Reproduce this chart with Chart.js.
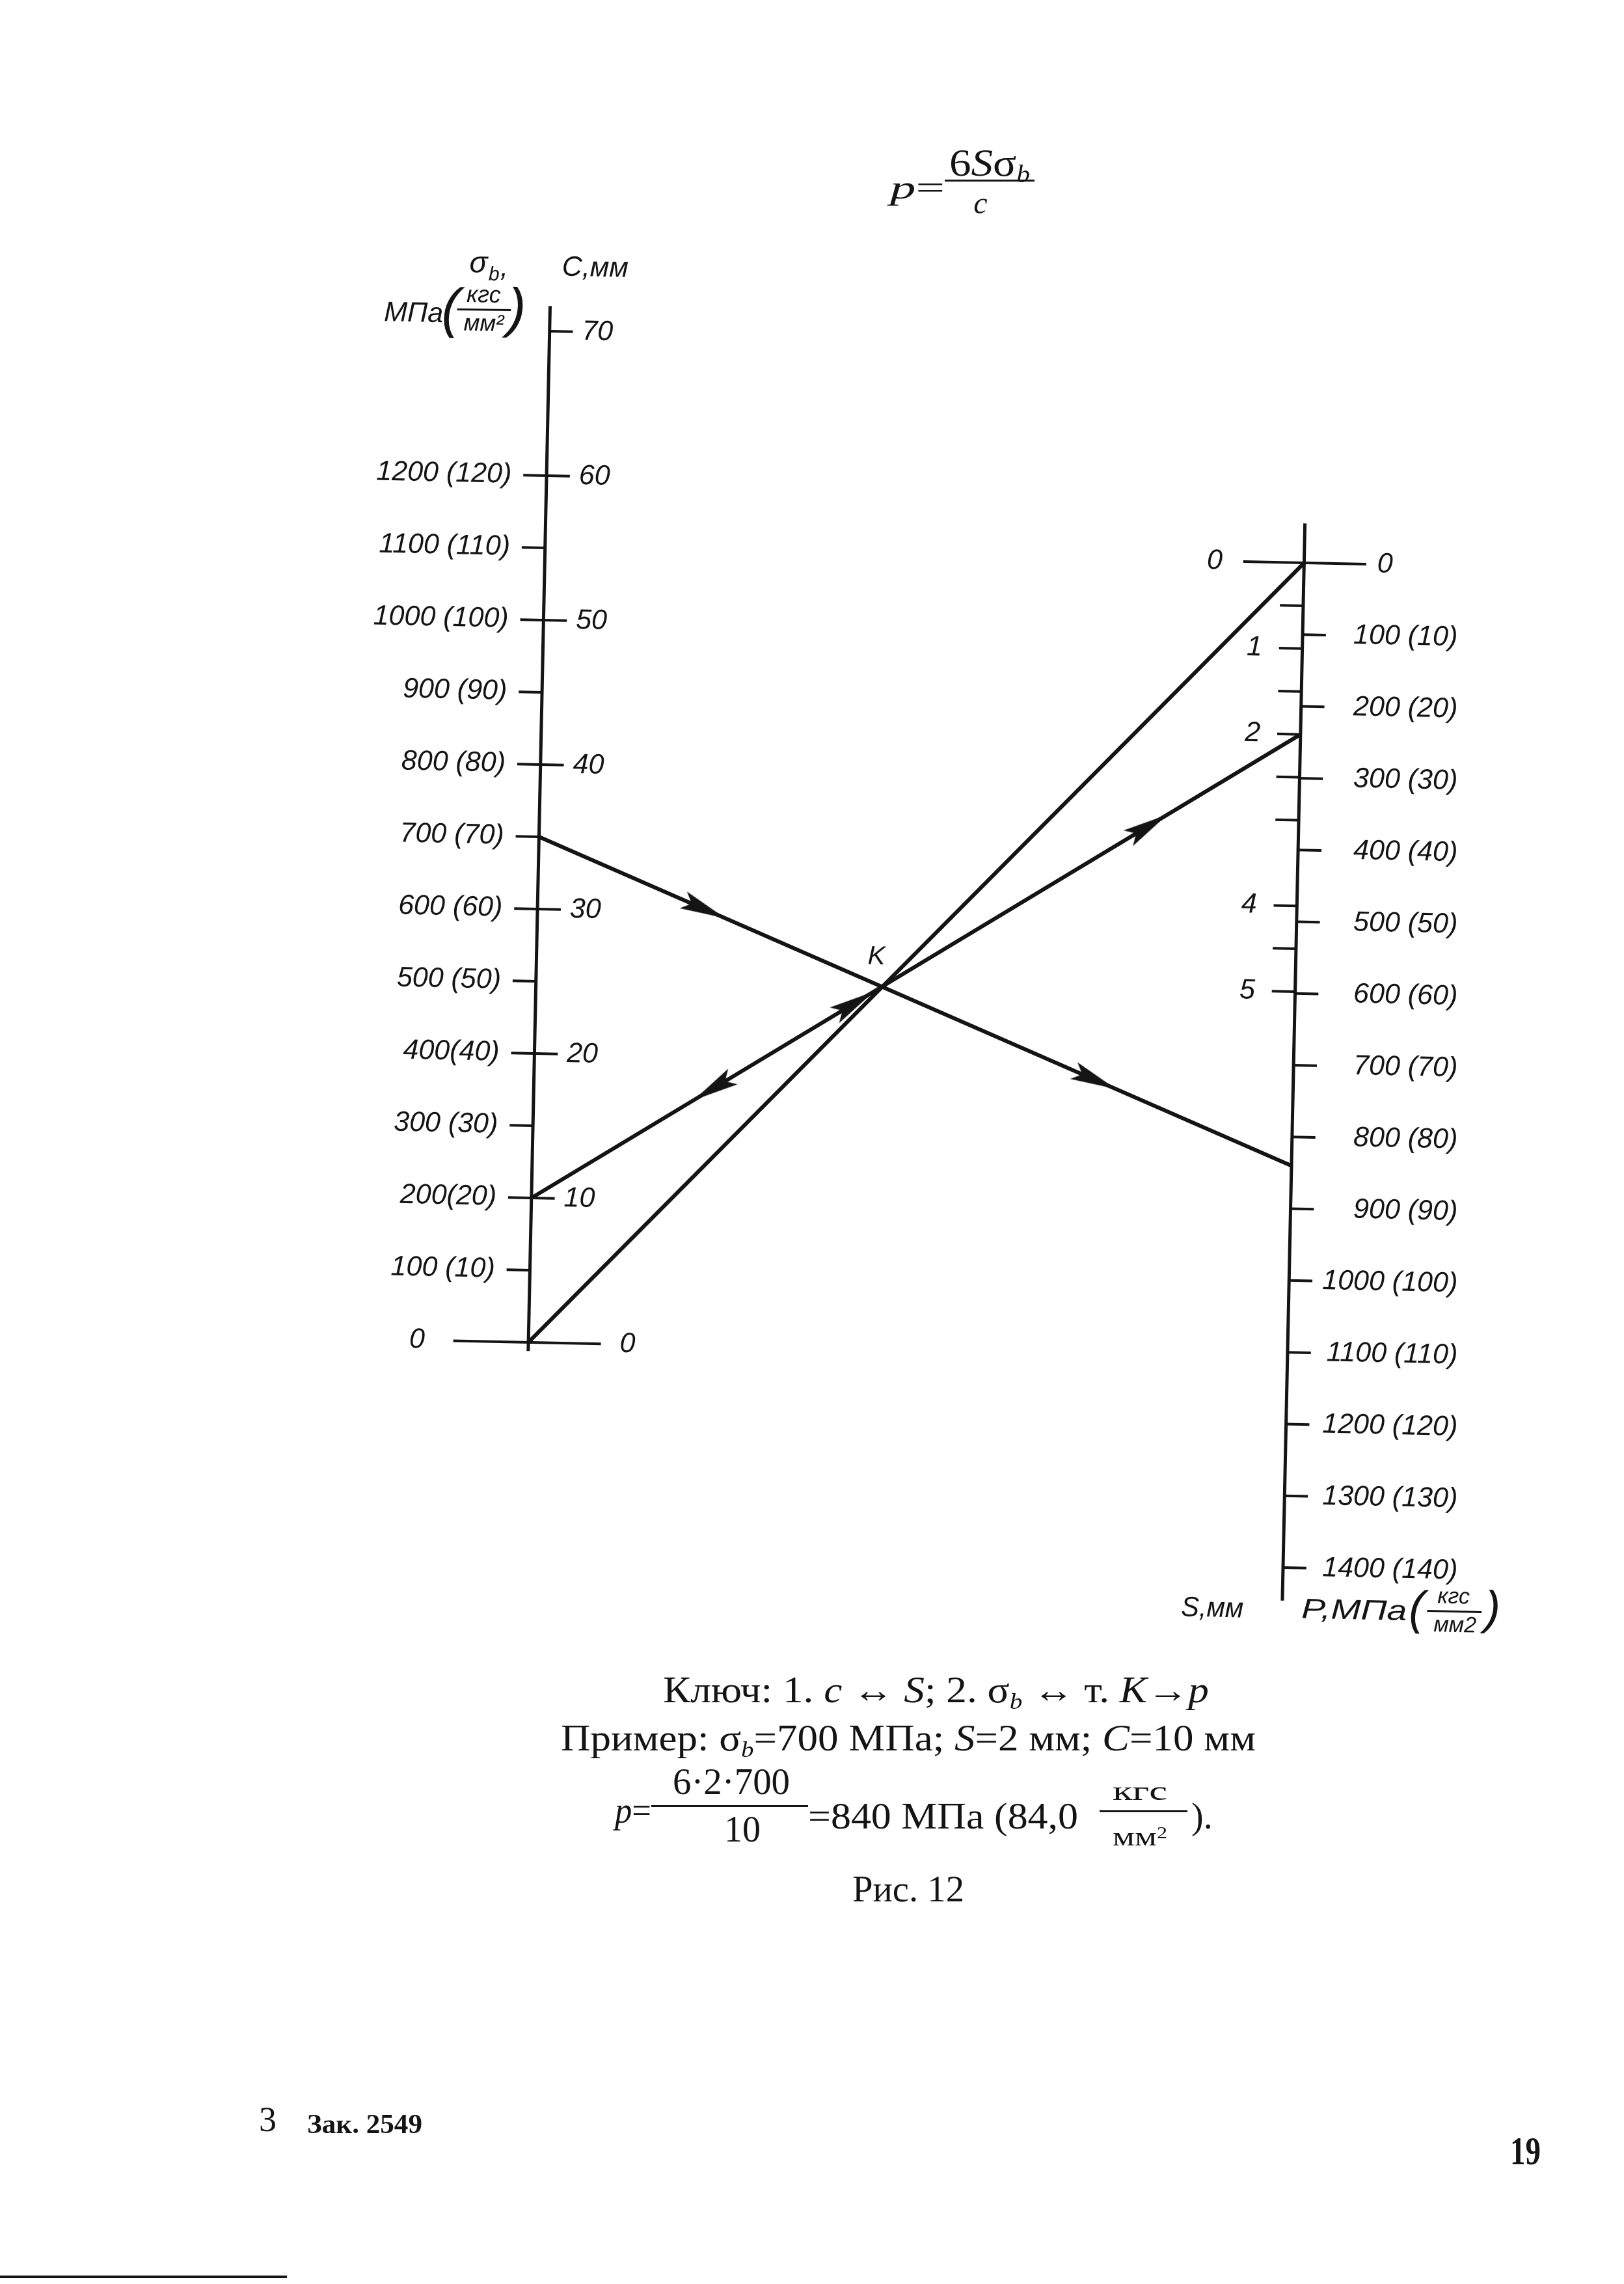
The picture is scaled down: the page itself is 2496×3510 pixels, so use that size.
<!DOCTYPE html>
<html>
<head>
<meta charset="utf-8">
<script src="https://cdn.jsdelivr.net/npm/chart.js@4.4.1/dist/chart.umd.min.js"></script>
<style>
  html, body { margin: 0; padding: 0; background: #fff; }
  #page { position: relative; width: 2496px; height: 3510px; overflow: hidden; background: #fff; }
  #wrap { position: absolute; left: 0; top: 0; width: 2496px; height: 3510px; }
  .t { position: absolute; white-space: nowrap; color: #141414; line-height: 1;
       font-family: "Liberation Serif", "DejaVu Serif", serif; }
  .sb { font-size: .62em; position: relative; top: .28em; font-style: italic; }
  .sp { font-size: .6em; position: relative; top: -.45em; }
  .bar { position: absolute; background: #141414; }
</style>
</head>
<body>
<div id="page">
  <div id="wrap"><canvas id="nomo"></canvas></div>
</div>
<script>
// scales of the nomogram
const sigmaTicks = [0, 100, 200, 300, 400, 500, 600, 700, 800, 900, 1000, 1100, 1200];
const sigmaLabels = ['0', '100 (10)', '200(20)', '300 (30)', '400(40)', '500 (50)', '600 (60)',
  '700 (70)', '800 (80)', '900 (90)', '1000 (100)', '1100 (110)', '1200 (120)'];
const cTicks = [0, 10, 20, 30, 40, 50, 60, 70];
const cLabels = ['0', '10', '20', '30', '40', '50', '60', '70'];
const sTicks = [0, 0.5, 1, 1.5, 2, 2.5, 3, 4, 4.5, 5];
const sLabelValues = [0, 1, 2, 4, 5];
const pTicks = [0, 100, 200, 300, 400, 500, 600, 700, 800, 900, 1000, 1100, 1200, 1300, 1400];
const pLabels = ['0', '100 (10)', '200 (20)', '300 (30)', '400 (40)', '500 (50)', '600 (60)',
  '700 (70)', '800 (80)', '900 (90)', '1000 (100)', '1100 (110)', '1200 (120)', '1300 (130)', '1400 (140)'];

// worked example
const exampleSigma = 700;
const exampleC = 10;
const exampleS = 2;
const exampleP = 840;

// arrows: which key line, position along it, direction
const arrowLine = [0, 0, 1, 1, 1];
const arrowPos = [0.218, 0.737, 0.238, 0.418, 0.80];
const arrowDir = [1, 1, -1, 1, 1];

// ---- layout of the drawing (page pixels) ----
const INK = '#141414';
const TILT = 0.021;                 // the scan is turned a little
const L_Y0 = 2064, L_K = 1.1137, L_X0 = 810;   // left axis: sigma -> page
const R_Y0 = 862, R_K = 1.1066, R_X0 = 2008;   // right axis: p -> page
const C_TO_SIG = 20, S_TO_P = 119.5;
const TICK = 36;

function leftPt(sig) {
  const y = L_Y0 - L_K * sig;
  return { x: L_X0 + TILT * (L_Y0 - y), y: y };
}
function rightPt(p) {
  const y = R_Y0 + R_K * p;
  return { x: R_X0 - TILT * (y - R_Y0), y: y };
}
function off(pt, d) {
  return { x: pt.x + d, y: pt.y + d * TILT };
}
function intersect(a1, a2, b1, b2) {
  const d = (a2.x - a1.x) * (b2.y - b1.y) - (a2.y - a1.y) * (b2.x - b1.x);
  const t = ((b1.x - a1.x) * (b2.y - b1.y) - (b1.y - a1.y) * (b2.x - b1.x)) / d;
  return { x: a1.x + t * (a2.x - a1.x), y: a1.y + t * (a2.y - a1.y) };
}

// line segments
const segs = [];
segs.push({ d: [leftPt(-12), leftPt(1435)], w: 5 });
segs.push({ d: [rightPt(-55), rightPt(1446)], w: 5 });
sigmaTicks.filter(v => v > 0).forEach(v => segs.push({ d: [off(leftPt(v), -TICK), leftPt(v)], w: 4 }));
cTicks.filter(v => v > 0).forEach(v => segs.push({ d: [leftPt(v * C_TO_SIG), off(leftPt(v * C_TO_SIG), TICK)], w: 4 }));
segs.push({ d: [off(leftPt(0), -116), off(leftPt(0), 112)], w: 4 });
sTicks.filter(v => v > 0).forEach(v => segs.push({ d: [off(rightPt(v * S_TO_P), -TICK), rightPt(v * S_TO_P)], w: 4 }));
pTicks.filter(v => v > 0).forEach(v => segs.push({ d: [rightPt(v), off(rightPt(v), TICK)], w: 4 }));
segs.push({ d: [off(rightPt(0), -94), off(rightPt(0), 96)], w: 4 });

// key lines: sigma -> p, c -> S, 0 -> 0
const keyLines = [
  [leftPt(exampleSigma), rightPt(exampleP)],
  [leftPt(exampleC * C_TO_SIG), rightPt(exampleS * S_TO_P)],
  [leftPt(0), rightPt(0)]
];
const K = intersect(keyLines[0][0], keyLines[0][1], keyLines[2][0], keyLines[2][1]);

// arrow points + rotation
const arrowPts = arrowPos.map((t, i) => {
  const [a, b] = keyLines[arrowLine[i]];
  return { x: a.x + t * (b.x - a.x), y: a.y + t * (b.y - a.y) };
});
const arrowRot = arrowPos.map((t, i) => {
  const [a, b] = keyLines[arrowLine[i]];
  const dx = (b.x - a.x) * arrowDir[i], dy = (b.y - a.y) * arrowDir[i];
  return Math.atan2(dx, -dy) * 180 / Math.PI;
});

// barbed arrow head, pointing up
const arrowImg = document.createElement('canvas');
arrowImg.width = 30; arrowImg.height = 74;
(function () {
  const g = arrowImg.getContext('2d');
  g.fillStyle = INK;
  g.beginPath();
  g.moveTo(15, 0); g.lineTo(29, 70); g.lineTo(15, 56); g.lineTo(1, 70);
  g.closePath(); g.fill();
})();

const datasets = segs.map(s => ({
  data: s.d, showLine: true, borderColor: INK, borderWidth: s.w,
  pointRadius: 0, borderCapStyle: 'butt', fill: false
}));
keyLines.forEach(l => datasets.push({
  data: l, showLine: true, borderColor: INK, borderWidth: 6, pointRadius: 0, fill: false
}));
datasets.push({
  data: arrowPts, showLine: false, pointStyle: arrowImg, pointRadius: 5,
  pointRotation: arrowRot, pointBackgroundColor: INK
});

// labels on the nomogram
const labelPlugin = {
  id: 'nomoLabels',
  afterDatasetsDraw(chart) {
    const ctx = chart.ctx, sx = chart.scales.x, sy = chart.scales.y;
    const txt = (s, pt, align, size, width) => {
      ctx.save();
      ctx.translate(sx.getPixelForValue(pt.x), sy.getPixelForValue(pt.y));
      ctx.rotate(Math.atan(TILT));
      ctx.font = 'italic ' + size + 'px "Liberation Sans", "DejaVu Sans", sans-serif';
      if (width) ctx.scale(width / ctx.measureText(s).width, 1);
      ctx.fillStyle = INK;
      ctx.textAlign = align;
      ctx.textBaseline = 'middle';
      ctx.fillText(s, 0, 0);
      ctx.restore();
    };
    sigmaTicks.forEach((v, i) => txt(sigmaLabels[i], off(leftPt(v), v === 0 ? -160 : -54), 'right', 43));
    cTicks.forEach((v, i) => txt(cLabels[i], off(leftPt(v * C_TO_SIG), v === 0 ? 141 : 50), 'left', 43));
    sLabelValues.forEach(v => txt(String(v), off(rightPt(v * S_TO_P), v === 0 ? -126 : -62), 'right', 43));
    pTicks.forEach((v, i) => {
      if (v === 0) txt(pLabels[i], off(rightPt(0), 113), 'left', 43);
      else txt(pLabels[i], { x: 2245, y: rightPt(v).y + (2245 - rightPt(v).x) * TILT }, 'right', 43);
    });
    txt('K', { x: K.x - 9, y: K.y - 46 }, 'center', 40);

    // left header
    txt('σ', { x: 733, y: 401 }, 'center', 46);
    txt('b', { x: 757, y: 418 }, 'center', 30);
    txt(',', { x: 773, y: 408 }, 'center', 43);
    txt('C,мм', { x: 862, y: 407 }, 'left', 43);
    txt('МПа', { x: 587, y: 477 }, 'left', 43);
    txt('(', { x: 690, y: 474 }, 'center', 84);
    txt('кгс', { x: 741, y: 450 }, 'center', 36);
    txt('мм²', { x: 741, y: 494 }, 'center', 36);
    txt(')', { x: 792, y: 474 }, 'center', 84);
    // bottom right header
    txt('S,мм', { x: 1818, y: 2474 }, 'left', 43, 96);
    txt('P,МПа', { x: 2004, y: 2477 }, 'left', 43, 162);
    txt('(', { x: 2182, y: 2478 }, 'center', 72);
    txt('кгс', { x: 2239, y: 2457 }, 'center', 34);
    txt('мм2', { x: 2241, y: 2501 }, 'center', 34);
    txt(')', { x: 2299, y: 2478 }, 'center', 72);

    // small fraction bars of the headers
    ctx.save();
    ctx.strokeStyle = INK; ctx.lineWidth = 3;
    [[{ x: 700, y: 471 }, { x: 783, y: 472 }], [{ x: 2198, y: 2478 }, { x: 2282, y: 2480 }]].forEach(([a, b]) => {
      ctx.beginPath();
      ctx.moveTo(sx.getPixelForValue(a.x), sy.getPixelForValue(a.y));
      ctx.lineTo(sx.getPixelForValue(b.x), sy.getPixelForValue(b.y));
      ctx.stroke();
    });
    ctx.restore();
  }
};

function makeConfig() {
  return {
    type: 'scatter',
    data: { datasets },
    options: {
      responsive: true,
      maintainAspectRatio: false,
      devicePixelRatio: 1,
      animation: false,
      events: [],
      layout: { padding: 0 },
      elements: { line: { tension: 0 } },
      plugins: { legend: { display: false }, tooltip: { enabled: false } },
      scales: {
        x: { type: 'linear', min: 0, max: 2496, display: false },
        y: { type: 'linear', min: 0, max: 3510, reverse: true, display: false }
      }
    },
    plugins: [labelPlugin]
  };
}

const nomoChart = new Chart(document.getElementById('nomo').getContext('2d'), makeConfig());

// ---- page text (formula, caption, footer) ----
const page = document.getElementById('page');
function put(html, x, cy, size, o = {}) {
  const d = document.createElement('div');
  d.className = 't';
  d.innerHTML = html;
  d.style.fontSize = size + 'px';
  d.style.top = cy + 'px';
  if (o.bold) d.style.fontWeight = 'bold';
  page.appendChild(d);
  const w = d.getBoundingClientRect().width;
  const s = o.width ? o.width / w : 1;
  const left = o.align === 'c' ? x - w * s / 2 : x;
  d.style.left = left + 'px';
  d.style.transformOrigin = '0 50%';
  d.style.transform = 'translateY(-50%) scaleX(' + s + ')';
}
function bar(x, y, w, h) {
  const d = document.createElement('div');
  d.className = 'bar';
  d.style.left = x + 'px'; d.style.top = y + 'px';
  d.style.width = w + 'px'; d.style.height = h + 'px';
  page.appendChild(d);
}

// formula on top
put('<i>p</i>=', 1368, 288, 50, { width: 84 });
bar(1452, 276, 138, 3);
put('6<i>S</i>σ<span class="sb">b</span>', 1521, 250, 60, { align: 'c', width: 124 });
put('<i>c</i>', 1507, 312, 48, { align: 'c' });

// caption
put('Ключ: 1. <i>c</i> ↔ <i>S</i>; 2. σ<span class="sb">b</span> ↔ т. <i>K</i>→<i>p</i>', 1019, 2597, 56, { width: 839 });
put('Пример: σ<span class="sb">b</span>=700 МПа; <i>S</i>=2 мм; <i>C</i>=10 мм', 862, 2671, 56, { width: 1068 });
put('<i>p</i>=', 945, 2782, 56, { width: 56 });
bar(1001, 2774, 241, 3);
put('6·2·700', 1124, 2738, 56, { align: 'c', width: 180 });
put('10', 1141, 2811, 56, { align: 'c' });
put('=840 МПа (84,0', 1242, 2791, 56, { width: 415 });
put('кгс', 1752, 2752, 42, { align: 'c', width: 84 });
bar(1690, 2782, 135, 3);
put('мм<span class="sp">2</span>', 1752, 2822, 42, { align: 'c', width: 84 });
put(').', 1831, 2791, 56);
put('Рис. 12', 1310, 2903, 56, { width: 172 });

// footer
put('3', 398, 3257, 54);
put('Зак. 2549', 472, 3264, 42, { bold: true, width: 177 });
put('19', 2321, 3305, 62, { bold: true, width: 47 });
bar(0, 3497, 441, 4);
</script>
</body>
</html>
